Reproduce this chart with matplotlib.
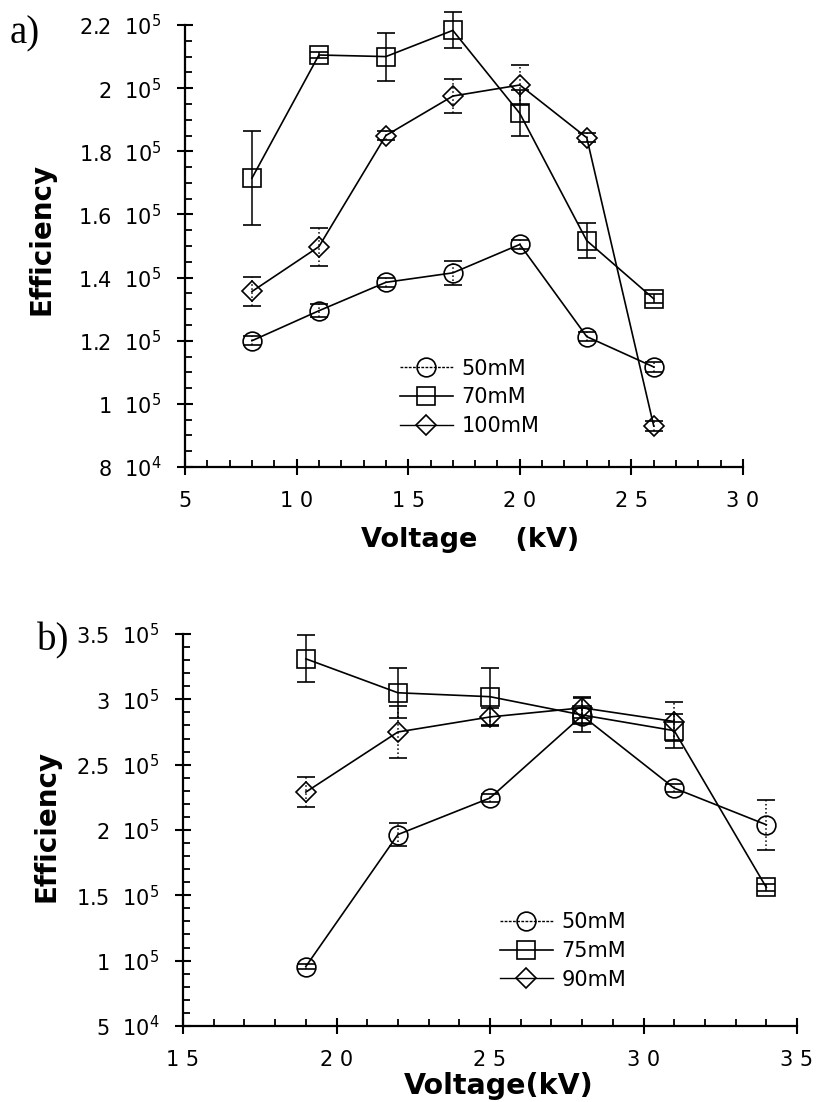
import matplotlib
matplotlib.use('Agg')
import matplotlib.pyplot as plt
from matplotlib.lines import Line2D
from matplotlib.ticker import MultipleLocator

plt.rcParams['font.family'] = ['DejaVu Sans']

# ---- panel a data ----
volt_a = [8, 11, 14, 17, 20, 23, 26]
eff_a_50 = [120000, 129500, 138500, 141500, 150500, 121300, 111700]
err_a_50 = [1500, 2000, 1500, 3800, 1500, 1500, 1500]
eff_a_70 = [171500, 210500, 210000, 218300, 192000, 151700, 133300]
err_a_70 = [14800, 1000, 7600, 5700, 7300, 5500, 1500]
eff_a_100 = [135600, 149800, 185000, 197500, 201000, 184300, 93000]
err_a_100 = [4500, 6000, 1500, 5400, 6300, 1500, 1500]
labels_a = ['50mM', '70mM', '100mM']
yticks_a = [80000, 100000, 120000, 140000, 160000, 180000, 200000, 220000]
ylabels_a = ['8  $10^{4}$', '1  $10^{5}$', '1.2  $10^{5}$', '1.4  $10^{5}$',
             '1.6  $10^{5}$', '1.8  $10^{5}$', '2  $10^{5}$', '2.2  $10^{5}$']
xticks_a = [5, 10, 15, 20, 25, 30]
xlabels_a = ['5', '1 0', '1 5', '2 0', '2 5', '3 0']

# ---- panel b data ----
volt_b = [19, 22, 25, 28, 31, 34]
eff_b_50 = [95500, 196500, 224500, 287500, 232000, 204000]
err_b_50 = [2000, 9000, 3000, 6000, 3000, 19000]
eff_b_75 = [331000, 305000, 302000, 288000, 276000, 156000]
err_b_75 = [18000, 19000, 22000, 13000, 13000, 3000]
volt_b_90 = [19, 22, 25, 28, 31]
eff_b_90 = [229000, 275000, 286500, 293500, 283000]
err_b_90 = [11600, 20000, 7000, 8000, 15000]
labels_b = ['50mM', '75mM', '90mM']
yticks_b = [50000, 100000, 150000, 200000, 250000, 300000, 350000]
ylabels_b = ['5  $10^{4}$', '1  $10^{5}$', '1.5  $10^{5}$', '2  $10^{5}$',
             '2.5  $10^{5}$', '3  $10^{5}$', '3.5  $10^{5}$']
xticks_b = [15, 20, 25, 30, 35]
xlabels_b = ['1 5', '2 0', '2 5', '3 0', '3 5']

W, H = 820, 1102
fig = plt.figure(figsize=(W / 100, H / 100), dpi=100)
ax_a = fig.add_axes([0.2256, 0.5762, 0.6805, 0.4011])
ax_b = fig.add_axes([0.2232, 0.0690, 0.7488, 0.3557])


def serie(ax, x, y, err, marker, ms, err_style):
    line, caps, bars = ax.errorbar(x, y, yerr=err, color='black', lw=1.2,
                                   marker=marker, ms=ms, mfc='none', mec='black',
                                   mew=1.2, capsize=6.5, capthick=1.2, elinewidth=1.1)
    line.set_clip_on(False)
    for b in bars:
        b.set_linestyle(err_style)
        b.set_clip_on(False)
    for c in caps:
        c.set_clip_on(False)
    return line


def style_axes(ax, xlim, ylim, xticks, xlabels, yticks, ylabels, ymin_step):
    ax.set_xlim(*xlim)
    ax.set_ylim(*ylim)
    for s in ['top', 'right']:
        ax.spines[s].set_visible(False)
    for s in ['left', 'bottom']:
        ax.spines[s].set_linewidth(1.6)
    ax.set_xticks(xticks)
    ax.set_xticklabels(xlabels)
    ax.set_yticks(yticks)
    ax.set_yticklabels(ylabels)
    ax.xaxis.set_minor_locator(MultipleLocator(1))
    ax.yaxis.set_minor_locator(MultipleLocator(ymin_step))
    ax.tick_params(which='major', direction='inout', length=12, width=1.5,
                   labelsize=15, pad=11)
    ax.tick_params(which='minor', direction='in', length=5, width=1.3)


def legenda(ax, labels, anchor):
    handles = [
        Line2D([], [], color='black', lw=1.0, ls=(0, (2, 1)), marker='o', ms=13.5,
               mfc='none', mec='black', mew=1.2),
        Line2D([], [], color='black', lw=1.2, marker='s', ms=13.5,
               mfc='none', mec='black', mew=1.2),
        Line2D([], [], color='black', lw=1.0, marker='D', ms=10.5,
               mfc='none', mec='black', mew=1.2),
    ]
    ax.legend(handles, labels, loc='upper left', bbox_to_anchor=anchor,
              frameon=False, fontsize=15, handlelength=2.55, handletextpad=0.4,
              labelspacing=0.42, borderpad=0, borderaxespad=0)


# painel a
serie(ax_a, volt_a, eff_a_50, err_a_50, 'o', 13.5, ':')
serie(ax_a, volt_a, eff_a_70, err_a_70, 's', 13.5, '-')
serie(ax_a, volt_a, eff_a_100, err_a_100, 'D', 10.5, ':')
style_axes(ax_a, (5, 30), (80000, 220000), xticks_a, xlabels_a,
           yticks_a, ylabels_a, 5000)
legenda(ax_a, labels_a, (0.385, 0.245))

# painel b
serie(ax_b, volt_b, eff_b_50, err_b_50, 'o', 13.5, ':')
serie(ax_b, volt_b, eff_b_75, err_b_75, 's', 13.5, '-')
serie(ax_b, volt_b_90, eff_b_90, err_b_90, 'D', 10.5, ':')
style_axes(ax_b, (15, 35), (50000, 350000), xticks_b, xlabels_b,
           yticks_b, ylabels_b, 10000)
legenda(ax_b, labels_b, (0.516, 0.290))

# rotulos dos eixos (posicoes em pixels da figura)
fig.text(470 / W, 1 - 547 / H, 'Voltage    (kV)', fontsize=19.5, fontweight='bold',
         ha='center', va='baseline')
fig.text(499 / W, 1 - 1094 / H, 'Voltage(kV)', fontsize=20.5, fontweight='bold',
         ha='center', va='baseline')
fig.text(42 / W, 1 - 239 / H, 'Efficiency', fontsize=20, fontweight='bold',
         rotation=90, ha='center', va='center')
fig.text(47 / W, 1 - 826 / H, 'Efficiency', fontsize=20, fontweight='bold',
         rotation=90, ha='center', va='center')

fig.text(10 / W, 1 - 34 / H, 'a)', fontsize=28, family='Liberation Serif', va='center')
fig.text(37 / W, 1 - 641 / H, 'b)', fontsize=28, family='Liberation Serif', va='center')

fig.savefig('out.png', dpi=100)
